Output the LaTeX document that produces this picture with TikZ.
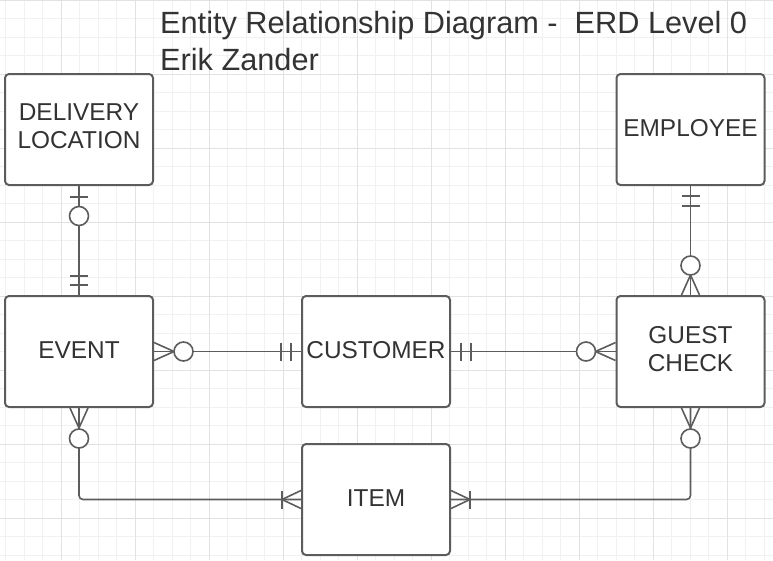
\documentclass[tikz,border=0pt]{standalone}
\usepackage{fontspec}
\setmainfont{Liberation Sans}
\usepackage{tikz}

\definecolor{gridminor}{RGB}{241,241,241}
\definecolor{gridmajor}{RGB}{226,226,226}
\definecolor{linegray}{RGB}{92,92,92}
\definecolor{textgray}{RGB}{51,51,51}

\tikzset{
  entity/.style={draw=linegray, line width=2pt, rounded corners=4pt, fill=white,
    minimum width=148pt, minimum height=111pt, inner sep=0pt, align=center,
    text depth=3pt, text=textgray, font=\fontsize{24.4}{28}\selectfont},
  rel/.style={draw=linegray, line width=1.6pt},
  ring/.style={draw=linegray, line width=1.6pt, fill=white},
  titletext/.style={text=textgray, inner sep=0pt, anchor=base west,
    font=\fontsize{30.7}{36.7}\selectfont}
}

\begin{document}
\begin{tikzpicture}[x=1pt,y=-1pt]
    	\useasboundingbox (0,0) rectangle (773,560);

    	% grid
    	\foreach \i in {0,...,41}{
    		\draw[gridminor, line width=1pt] (5.5+18.5*\i,0) -- (5.5+18.5*\i,560);
    	}
    	\foreach \i in {0,...,30}{
    		\draw[gridminor, line width=1pt] (0,18.5*\i) -- (773,18.5*\i);
    	}
    	\foreach \i in {0,...,9}{
    		\draw[gridmajor, line width=1pt] (61+74*\i,0) -- (61+74*\i,560);
    	}
    	\foreach \i in {0,...,7}{
    		\draw[gridmajor, line width=1pt] (0,74*\i) -- (773,74*\i);
    	}

    	% title
    	\node[titletext] (title) at (160,33.3) {Entity Relationship Diagram -\ \ ERD Level 0};
    	\node[titletext] (author) at ([yshift=-36.7pt]title.base west) {Erik Zander};

    	% entities
    	\node[entity, text depth=6pt] (dl) at (79,129.5) {DELIVERY\\LOCATION};
    	\node[entity] (ev) at (79,351.5) {EVENT};
    	\node[entity] (cu) at (376,351.5) {CUSTOMER};
    	\node[entity] (em) at (690.5,129.5) {EMPLOYEE};
    	\node[entity, text depth=6pt] (gc) at (690.5,351.5) {GUEST\\CHECK};
    	\node[entity] (it) at (376,499.5) {ITEM};

    	% delivery location -- event
    	\draw[rel] (dl.south) -- (ev.north);
    	\draw[rel] ([shift={(-9,11)}]dl.south) -- ([shift={(9,11)}]dl.south);
    	\draw[ring] ([shift={(0,30)}]dl.south) circle (9.5pt);
    	\draw[rel] ([shift={(-9,-19)}]ev.north) -- ([shift={(9,-19)}]ev.north);
    	\draw[rel] ([shift={(-9,-10)}]ev.north) -- ([shift={(9,-10)}]ev.north);

    	% event -- customer
    	\draw[rel] (ev.east) -- (cu.west);
    	\draw[rel] ([shift={(0,-9)}]ev.east) -- ([shift={(20,0)}]ev.east) -- ([shift={(0,9)}]ev.east);
    	\draw[ring] ([shift={(29.5,0)}]ev.east) circle (9.5pt);
    	\draw[rel] ([shift={(-20,-9)}]cu.west) -- ([shift={(-20,9)}]cu.west);
    	\draw[rel] ([shift={(-10,-9)}]cu.west) -- ([shift={(-10,9)}]cu.west);

    	% customer -- guest check
    	\draw[rel] (cu.east) -- (gc.west);
    	\draw[rel] ([shift={(10,-9)}]cu.east) -- ([shift={(10,9)}]cu.east);
    	\draw[rel] ([shift={(20,-9)}]cu.east) -- ([shift={(20,9)}]cu.east);
    	\draw[rel] ([shift={(0,-9)}]gc.west) -- ([shift={(-20,0)}]gc.west) -- ([shift={(0,9)}]gc.west);
    	\draw[ring] ([shift={(-29.5,0)}]gc.west) circle (9.5pt);

    	% employee -- guest check
    	\draw[rel] (em.south) -- (gc.north);
    	\draw[rel] ([shift={(-9,10)}]em.south) -- ([shift={(9,10)}]em.south);
    	\draw[rel] ([shift={(-9,20)}]em.south) -- ([shift={(9,20)}]em.south);
    	\draw[rel] ([shift={(-9,0)}]gc.north) -- ([shift={(0,-20)}]gc.north) -- ([shift={(9,0)}]gc.north);
    	\draw[ring] ([shift={(0,-29.5)}]gc.north) circle (9.5pt);

    	% event -- item
    	\draw[rel, rounded corners=4pt] (ev.south) |- (it.west);
    	\draw[rel] ([shift={(-9,0)}]ev.south) -- ([shift={(0,20)}]ev.south) -- ([shift={(9,0)}]ev.south);
    	\draw[ring] ([shift={(0,30.5)}]ev.south) circle (9.5pt);
    	\draw[rel] ([shift={(0,-9)}]it.west) -- ([shift={(-19,0)}]it.west) -- ([shift={(0,9)}]it.west);
    	\draw[rel] ([shift={(-19,-9)}]it.west) -- ([shift={(-19,9)}]it.west);

    	% guest check -- item
    	\draw[rel, rounded corners=4pt] (gc.south) |- (it.east);
    	\draw[rel] ([shift={(-9,0)}]gc.south) -- ([shift={(0,20)}]gc.south) -- ([shift={(9,0)}]gc.south);
    	\draw[ring] ([shift={(0,30.5)}]gc.south) circle (9.5pt);
    	\draw[rel] ([shift={(0,-9)}]it.east) -- ([shift={(19,0)}]it.east) -- ([shift={(0,9)}]it.east);
    	\draw[rel] ([shift={(19,-9)}]it.east) -- ([shift={(19,9)}]it.east);

\end{tikzpicture}
\end{document}
